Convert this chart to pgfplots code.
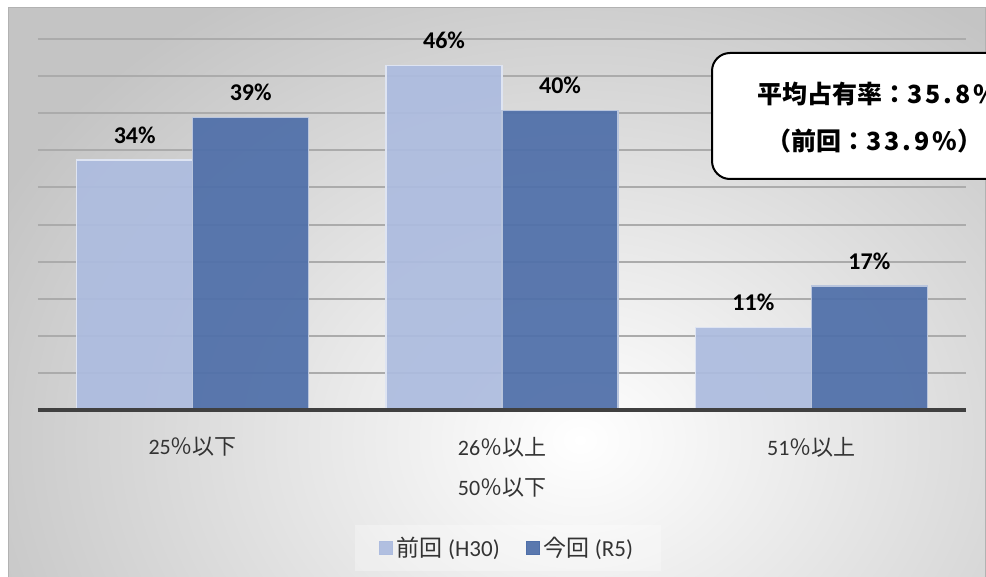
\documentclass[border=0pt]{standalone}
\usepackage{pgfplots}
\pgfplotsset{compat=1.18}
\usepackage{fontspec}
\setmainfont{Carlito}
\newfontfamily\cjk{Noto Sans CJK JP}
\newfontfamily\boxdig{Noto Sans CJK JP}[LetterSpace=12]
\definecolor{lightbar}{HTML}{ADBCDF}
\definecolor{darkbar}{HTML}{4F6FA9}
\definecolor{txt}{HTML}{333333}
\begin{document}
\begin{tikzpicture}
\useasboundingbox (0,0) rectangle (493pt,-288.5pt);
\clip (0,0) rectangle (493pt,-288.5pt);
\begin{scope}[x=0.5pt,y=-0.5pt]
\fill[white] (0,0) rectangle (986,577);
\begin{scope}
\clip (8,8) rectangle (985,590);
\fill[black!23] (8,8) rectangle (985,590);
\shade[inner color=white, outer color=black!23] (580,440) ellipse [x radius=650, y radius=520];
\end{scope}
\draw[black!30, line width=0.5pt] (8,8) rectangle (985,590);
\end{scope}
\begin{axis}[
  at={(19pt,-205pt)}, anchor=south west,
  scale only axis, width=464pt, height=185.5pt,
  /pgf/number format/assume math mode=true,
  ybar=0pt, bar width=58pt,
  xmin=-0.5, xmax=2.5, ymin=0, ymax=50,
  xtick={0,1,2},
  xticklabels={{25{\cjk ％以下}}, {26{\cjk ％以上}\\50{\cjk ％以下}}, {51{\cjk ％以上}}},
  xticklabel style={align=center, anchor=north, inner sep=0pt, yshift=-13.5pt,
     font=\fontsize{11}{20}\selectfont, text=txt},
  ytick={0,5,...,50},
  yticklabel style={opacity=0, text opacity=0},
  ymajorgrids, major grid style={draw=black!33, line width=1pt},
  axis line style={draw=none},
  major tick length=0pt,
  clip=false,
  nodes near coords={\pgfmathprintnumber[fixed,precision=0,assume math mode=true]{\pgfplotspointmeta}\%},
  every node near coord/.append style={font=\bfseries\fontsize{12}{14}\selectfont,
     anchor=center, yshift=12.5pt, text=black, text opacity=1},
  legend style={at={(0.5065,-0.372)}, anchor=center, legend columns=2,
     draw=none, fill=white, fill opacity=0.3, text opacity=1,
     font=\fontsize{11.5}{13}\selectfont, text=txt,
     inner xsep=12pt, inner ysep=4pt,
     /tikz/every even column/.append style={column sep=11pt}},
  legend cell align=left,
]
\addplot[fill=lightbar, draw=white!60!lightbar, line width=0.6pt, fill opacity=0.93,
  legend image code/.code={\fill[lightbar] (0pt,-3.2pt) rectangle (6.4pt,3.2pt);}]
  coordinates {(0,33.7) (1,46.4) (2,11.1)};
\addplot[fill=darkbar, draw=white!60!darkbar, line width=0.6pt, fill opacity=0.93,
  legend image code/.code={\fill[darkbar] (0pt,-3.2pt) rectangle (6.4pt,3.2pt);}]
  coordinates {(0,39.4) (1,40.4) (2,16.7)};
\legend{{\cjk 前回} (H30), {\cjk 今回} (R5)}
\draw[black!75, line width=2pt] (rel axis cs:0,0) -- (rel axis cs:1,0);
\end{axis}
\begin{scope}[x=0.5pt,y=-0.5pt]
\filldraw[fill=white, draw=black, line width=1pt, rounded corners=9pt] (712,53) rectangle (1040,179);
\node[anchor=west, inner sep=0pt, font=\cjk\bfseries\fontsize{12.5}{15}\selectfont] at (757,94) {平均占有率：{\boxdig 35.8\%}};
\node[anchor=west, inner sep=0pt, font=\cjk\bfseries\fontsize{12.5}{15}\selectfont] at (766,141) {（前回：{\boxdig 33.9\%}）};
\end{scope}
\end{tikzpicture}
\end{document}
